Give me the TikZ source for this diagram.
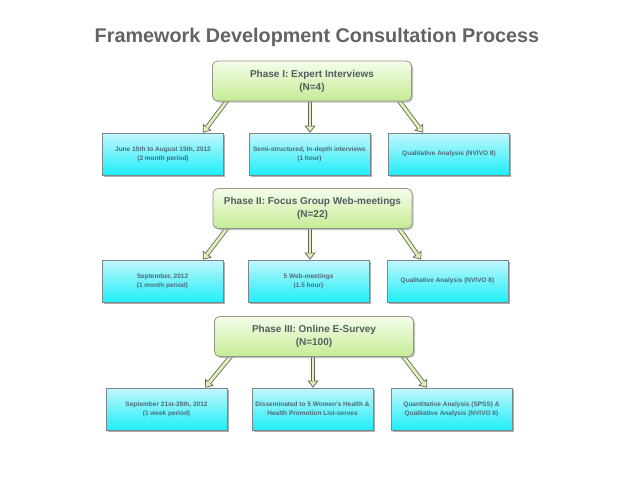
\documentclass[tikz,border=0pt]{standalone}
\usepackage{fontspec}
\setmainfont{Liberation Sans}
\usetikzlibrary{arrows.meta,calc,shadows,backgrounds}
\definecolor{titlegray}{HTML}{636363}
\definecolor{gtop}{HTML}{F6FDEB}
\definecolor{gbot}{HTML}{C4EC94}
\definecolor{gborder}{HTML}{8E9A86}
\definecolor{ctop}{HTML}{C2F7FC}
\definecolor{cbot}{HTML}{1EEEFA}
\definecolor{cborder}{HTML}{7A8688}
\definecolor{phasetext}{HTML}{545C60}
\definecolor{childtext}{HTML}{4C6A76}
\definecolor{agreen}{HTML}{DDF2B8}
\definecolor{aline}{HTML}{5E625A}
\tikzset{
  phasebox/.style={draw=gborder, line width=0.8pt, rounded corners=5pt,
    top color=gtop, bottom color=gbot, minimum width=199pt, minimum height=40pt,
    align=center, text=phasetext, font=\fontsize{10}{13}\selectfont\bfseries,
    drop shadow={shadow xshift=1.5pt, shadow yshift=-1.5pt, fill=black!40, opacity=0.6}},
  childbox/.style={draw=cborder, line width=0.7pt,
    top color=ctop, bottom color=cbot, minimum width=121pt, minimum height=42pt,
    align=center, text=childtext, font=\fontsize{6.5}{9}\selectfont\bfseries,
    drop shadow={shadow xshift=1.8pt, shadow yshift=-1.8pt, fill=black!45, opacity=0.7}},
  arrowout/.style={draw=aline, line width=4.4pt,
    -{Triangle[length=7pt,width=11pt,fill=agreen,line width=0.7pt]}},
  arrowin/.style={draw=agreen, line width=2.8pt, shorten >=6.3pt},
  titletext/.style={text=titlegray, font=\fontsize{19.8}{22}\selectfont\bfseries}
}
\newcommand\blockarrow[2]{%
  \begin{pgfonlayer}{background}
  \draw[arrowout] #1 -- #2;
  \draw[arrowin] #1 -- #2;
  \end{pgfonlayer}}
\begin{document}
\begin{tikzpicture}[x=1pt,y=-1pt]
\useasboundingbox (0,0) rectangle (638,479);
\node[titletext] (title) at (317,37) {Framework Development Consultation Process};

\node[phasebox] (p1) at (312,81) {Phase I: Expert Interviews\\(N=4)};
\node[childbox] (c11) at (163,154) {June 15th to August 15th, 2012\\(2 month period)};
\node[childbox] (c12) at (309.5,154) {Semi-structured, In-depth interviews\\(1 hour)};
\node[childbox] (c13) at (449,154) {Qualitative Analysis (NVIVO 8)};

\node[phasebox] (p2) at (312.5,208.5) {Phase II: Focus Group Web-meetings\\(N=22)};
\node[childbox] (c21) at (162.5,281) {September, 2012\\(1 month period)};
\node[childbox] (c22) at (308.5,281) {5 Web-meetings\\(1.5 hour)};
\node[childbox] (c23) at (447.5,281) {Qualitative Analysis (NVIVO 8)};

\node[phasebox] (p3) at (314,336.5) {Phase III: Online E-Survey\\(N=100)};
\node[childbox] (c31) at (166.5,409) {September 21st-28th, 2012\\(1 week period)};
\node[childbox] (c32) at (312.5,409) {Disseminated to 5 Women's Health \&\\Health Promotion List-serves};
\node[childbox] (c33) at (451.5,409) {Quantitative Analysis (SPSS) \&\\Qualitative Analysis (NVIVO 8)};

\blockarrow{($(p1.south)+(-84,-2)$)}{($(c11.north)+(40,0)$)}
\blockarrow{($(p1.south)+(-2,-2)$)}{($(c12.north)+(0.5,0)$)}
\blockarrow{($(p1.south)+(86,-2)$)}{($(c13.north)+(-26,0)$)}

\blockarrow{($(p2.south)+(-84.5,-2)$)}{($(c21.north)+(40.5,0)$)}
\blockarrow{($(p2.south)+(-2.5,-2)$)}{($(c22.north)+(1.5,0)$)}
\blockarrow{($(p2.south)+(85.5,-2)$)}{($(c23.north)+(-26.5,0)$)}

\blockarrow{($(p3.south)+(-82,-2)$)}{($(c31.north)+(38.5,0)$)}
\blockarrow{($(p3.south)+(-1,-2)$)}{($(c32.north)+(0.5,0)$)}
\blockarrow{($(p3.south)+(88,-2)$)}{($(c33.north)+(-24.5,0)$)}
\end{tikzpicture}
\end{document}
